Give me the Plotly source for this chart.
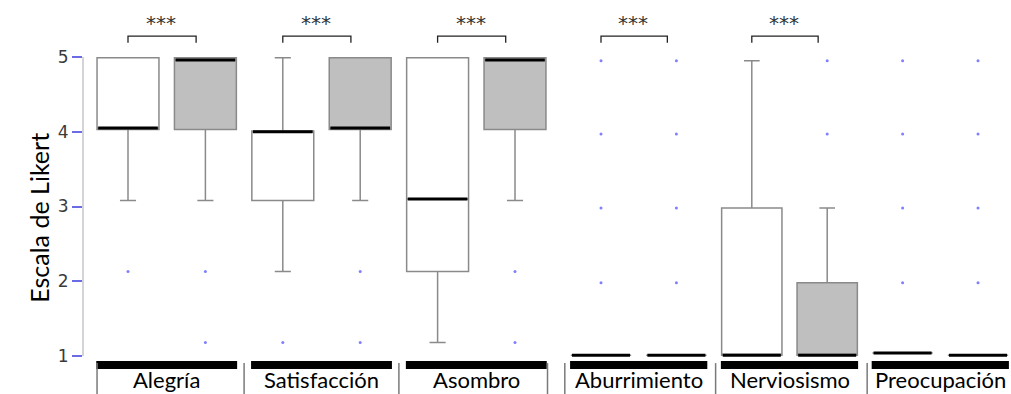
import plotly.graph_objects as go

# Likert ratings (1-5) per emotion; series A = white boxes, series B = gray boxes
categories = ["Alegría", "Satisfacción", "Asombro", "Aburrimiento", "Nerviosismo", "Preocupación"]
significance = ["***", "***", "***", "***", "***", ""]

q1_a = [4.03, 3.08, 2.13, 1.01, 1.01, 1.04]
med_a = [4.05, 4.00, 3.10, 1.01, 1.01, 1.04]
q3_a = [4.99, 4.01, 4.99, 1.01, 2.98, 1.04]
low_a = [3.08, 2.13, 1.18, 1.01, 1.01, 1.04]
high_a = [4.99, 4.99, 4.99, 1.01, 4.95, 1.04]
out_a = [[2.13], [1.18], [], [4.95, 3.97, 2.98, 1.98], [], [4.95, 3.97, 2.98, 1.98]]

q1_b = [4.03, 4.03, 4.03, 1.01, 1.01, 1.01]
med_b = [4.96, 4.05, 4.96, 1.01, 1.01, 1.01]
q3_b = [4.99, 4.99, 4.99, 1.01, 1.98, 1.01]
low_b = [3.08, 3.08, 3.08, 1.01, 1.01, 1.01]
high_b = [4.99, 4.99, 4.99, 1.01, 2.98, 1.01]
out_b = [[2.13, 1.18], [2.13, 1.18], [2.13, 1.18],
         [4.95, 3.97, 2.98, 1.98], [4.95, 3.97], [4.95, 3.97, 2.98, 1.98]]

y_ticks = [1, 2, 3, 4, 5]
y_title = "Escala de Likert"

# ---- styling ----
W, H = 1011, 394
ML = 83
Y_RANGE = [0.4916, 5.7625]
BOX_LINE = "#8a8a8a"
GRAY_FILL = "#bfbfbf"
DOT = "#7f7fff"
LABEL_FONT = "Lato, Open Sans, sans-serif"
BOX_W = 0.8
series = [
    dict(q1=q1_a, med=med_a, q3=q3_a, lo=low_a, hi=high_a, out=out_a, fill="#ffffff"),
    dict(q1=q1_b, med=med_b, q3=q3_b, lo=low_b, hi=high_b, out=out_b, fill=GRAY_FILL),
]

fig = go.Figure()
shapes = []
annotations = []


def axis_of(i):
    return ("x", "x2")[i // 3]


def base_pos(i):
    return 2 * (i % 3)


for i, cat in enumerate(categories):
    xa = axis_of(i)
    for s_idx, s in enumerate(series):
        pos = base_pos(i) + s_idx
        fig.add_trace(go.Box(
            x=[pos], q1=[s["q1"][i]], median=[s["med"][i]], q3=[s["q3"][i]],
            lowerfence=[s["lo"][i]], upperfence=[s["hi"][i]],
            width=BOX_W, whiskerwidth=0.26, fillcolor=s["fill"],
            line=dict(color=BOX_LINE, width=1.5), boxpoints=False,
            xaxis=xa, yaxis="y", showlegend=False, hoverinfo="skip",
        ))
        # heavy median bar
        fig.add_trace(go.Scatter(
            x=[pos - 0.385, pos + 0.385], y=[s["med"][i]] * 2, mode="lines",
            line=dict(color="#000000", width=3), xaxis=xa, yaxis="y",
            showlegend=False, hoverinfo="skip",
        ))
        if s["out"][i]:
            fig.add_trace(go.Scatter(
                x=[pos] * len(s["out"][i]), y=s["out"][i], mode="markers",
                marker=dict(color=DOT, size=3), xaxis=xa, yaxis="y",
                showlegend=False, hoverinfo="skip",
            ))

    g0 = base_pos(i)
    # significance bracket
    if significance[i]:
        fig.add_trace(go.Scatter(
            x=[g0, g0, g0 + 0.88, g0 + 0.88], y=[5.19, 5.28, 5.28, 5.19], mode="lines",
            line=dict(color="#222222", width=1.3), xaxis=xa, yaxis="y",
            showlegend=False, hoverinfo="skip",
        ))
        annotations.append(dict(
            x=g0 + 0.43, y=5.46, xref=xa, yref="y", text=significance[i], showarrow=False,
            font=dict(family="DejaVu Sans", size=20, color="#333333"),
        ))
    # category band and label under each pair
    shapes.append(dict(type="rect", xref=xa, yref="y", x0=g0 - 0.41, x1=g0 + 1.41,
                       y0=0.826, y1=0.933, fillcolor="#000000", line=dict(width=0)))
    annotations.append(dict(
        x=g0 + 0.5, y=Y_RANGE[0], xref=xa, yref="y", yanchor="bottom", text=cat,
        showarrow=False, borderpad=0,
        font=dict(family=LABEL_FONT, size=22, color="#000000"),
    ))

# separators between category labels
for xa, seps in (("x", [-0.4, 1.5, 3.5, 5.42]), ("x2", [-0.48, 1.52, 3.53])):
    for sx in seps:
        shapes.append(dict(type="line", xref=xa, yref="y", x0=sx, x1=sx, y0=0.905, y1=Y_RANGE[0],
                           line=dict(color="#7a7a7a", width=1.5)))

# y axis spine limited to the scale
shapes.append(dict(type="line", xref="paper", yref="y", x0=0, x1=0, y0=1, y1=5,
                   line=dict(color="#c4c4cc", width=1.5)))

annotations.append(dict(
    x=-(ML - 22) / (W - ML), y=2.85, xref="paper", yref="y", text=y_title, textangle=-90,
    showarrow=False, font=dict(family=LABEL_FONT, size=25, color="#000000"),
))

split = (556 - ML) / (W - ML)
fig.update_layout(
    width=W, height=H, margin=dict(l=ML, r=0, t=0, b=0),
    paper_bgcolor="white", plot_bgcolor="white", showlegend=False,
    xaxis=dict(domain=[0, split], range=[-0.5814, 5.5297], visible=False, anchor="y"),
    xaxis2=dict(domain=[split, 1], range=[-0.5968, 5.4377], visible=False, anchor="y"),
    yaxis=dict(range=Y_RANGE, tickvals=y_ticks, ticks="outside", ticklen=10,
               tickwidth=1.5, tickcolor="#6b6be6", showline=False, showgrid=False,
               zeroline=False, tickfont=dict(family="DejaVu Sans", size=17, color="#3a3a3a")),
    shapes=shapes, annotations=annotations,
)

fig.write_html("out.html")
